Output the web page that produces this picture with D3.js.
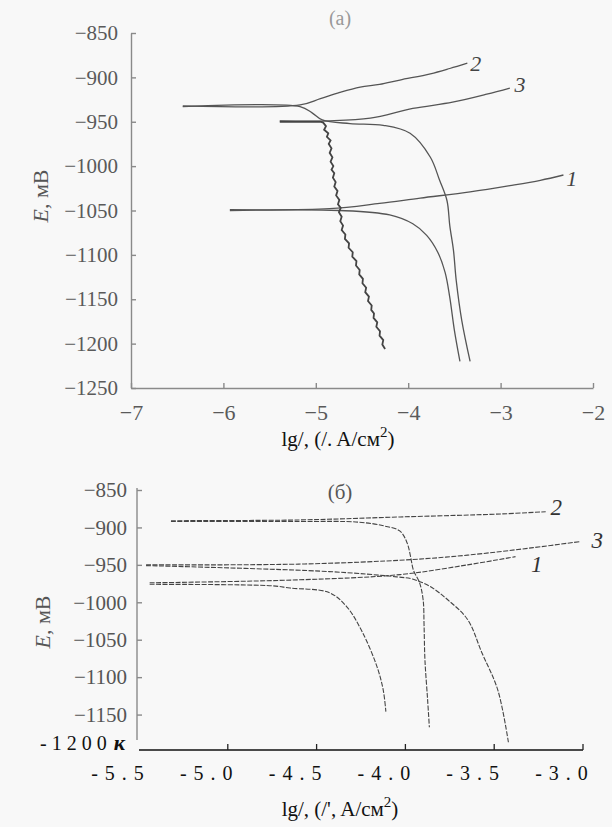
<!DOCTYPE html>
<html><head><meta charset="utf-8">
<script src="https://cdn.jsdelivr.net/npm/d3@7"></script>
<style>
html,body{margin:0;padding:0;background:#f8f8f8;}
svg{display:block;}
svg text{font-family:"Liberation Serif","Times New Roman",Times,"DejaVu Serif",serif !important;}
</style></head><body>
<svg id="c" width="612" height="827"></svg>
<script>
// ---------- Panel (a) data: [lg i, E mV] ----------
const xTicksA = [-7, -6, -5, -4, -3, -2];
const yTicksA = [-850, -900, -950, -1000, -1050, -1100, -1150, -1200, -1250];
const a1Anodic = [[-5.93,-1049],[-4.85,-1048],[-4.31,-1042],[-3.87,-1036],[-3.33,-1029],[-2.90,-1022],[-2.57,-1016],[-2.32,-1010]];
const a1Cathodic = [[-5.93,-1050],[-4.74,-1050],[-4.20,-1055],[-3.95,-1065],[-3.80,-1078],[-3.68,-1097],[-3.60,-1120],[-3.55,-1148],[-3.50,-1185],[-3.44,-1220]];
const a2Anodic = [[-6.44,-932],[-5.17,-931],[-4.95,-924],[-4.74,-917],[-4.52,-911],[-4.31,-908],[-4.09,-903],[-3.76,-896],[-3.55,-890],[-3.36,-884]];
const a2Cathodic = [[-6.44,-933],[-5.17,-933],[-5.04,-940],[-4.93,-948],[-4.63,-952],[-4.27,-954],[-3.98,-963],[-3.76,-990],[-3.66,-1016],[-3.58,-1039],[-3.55,-1067],[-3.51,-1095],[-3.48,-1129],[-3.42,-1174],[-3.33,-1220]];
const a3Anodic = [[-5.39,-949],[-4.85,-949],[-4.41,-946],[-3.95,-935],[-3.52,-928],[-3.15,-919],[-2.90,-912]];
const a3Cathodic = [[-5.39,-950],[-4.95,-950],[-4.92,-951],[-4.89,-955],[-4.91,-959],[-4.865,-963],[-4.88,-967],[-4.84,-971],[-4.86,-975],[-4.83,-980],[-4.85,-985],[-4.82,-990],[-4.84,-995],[-4.81,-1000],[-4.83,-1004],[-4.80,-1008],[-4.815,-1013],[-4.785,-1018],[-4.80,-1023],[-4.765,-1028],[-4.78,-1033],[-4.745,-1038],[-4.76,-1043],[-4.73,-1047],[-4.75,-1052],[-4.72,-1057],[-4.735,-1062],[-4.705,-1067],[-4.72,-1072],[-4.68,-1077],[-4.685,-1082],[-4.64,-1087],[-4.645,-1092],[-4.60,-1097],[-4.605,-1102],[-4.56,-1107],[-4.565,-1112],[-4.525,-1117],[-4.53,-1122],[-4.49,-1127],[-4.495,-1132],[-4.455,-1137],[-4.465,-1142],[-4.425,-1147],[-4.435,-1152],[-4.395,-1157],[-4.40,-1162],[-4.37,-1166],[-4.375,-1171],[-4.335,-1176],[-4.345,-1181],[-4.305,-1186],[-4.31,-1191],[-4.27,-1196],[-4.28,-1201],[-4.25,-1206]];
const labelsA = [["1",-2.23,-1014],["2",-3.27,-884],["3",-2.79,-908]];

// ---------- Panel (b) data ----------
const yTicksB = [-850, -900, -950, -1000, -1050, -1100, -1150];
const xTicksB = [-5.0, -4.5, -4.0, -3.5, -3.0];
const xTickLabelsB = ["-5.5", "-5.0", "-4.5", "-4.0", "-3.5", "-3.0"];
const xTickLabelValsB = [-5.5, -5.0, -4.5, -4.0, -3.5, -3.0];
const b1Anodic = [[-5.44,-974],[-4.60,-970],[-4.03,-963],[-3.65,-950],[-3.38,-939]];
const b1Cathodic = [[-5.44,-976],[-4.75,-978],[-4.65,-981],[-4.43,-987],[-4.33,-1006],[-4.24,-1041],[-4.16,-1086],[-4.125,-1117],[-4.11,-1146]];
const b2Anodic = [[-5.32,-891],[-4.60,-890],[-4.03,-886],[-3.46,-882],[-3.21,-879]];
const b2Cathodic = [[-5.32,-892],[-4.60,-892],[-4.26,-893],[-4.12,-898],[-4.03,-905],[-3.99,-921],[-3.97,-940],[-3.955,-957],[-3.92,-974],[-3.90,-997],[-3.895,-1030],[-3.89,-1077],[-3.875,-1130],[-3.865,-1167]];
const b3Anodic = [[-5.46,-950],[-4.60,-949],[-3.97,-943],[-3.65,-937],[-3.28,-927],[-3.02,-919]];
const b3Cathodic = [[-5.46,-951],[-4.43,-959],[-4.05,-966],[-3.96,-969],[-3.86,-979],[-3.76,-997],[-3.65,-1023],[-3.57,-1067],[-3.48,-1117],[-3.42,-1187]];
const labelsB = [["1",-3.26,-950],["2",-3.15,-874],["3",-2.92,-918]];

const SERIF = "'Liberation Serif','Times New Roman',Times,serif";
const svg = d3.select("#c").style("font-family", SERIF);

// ================= Panel (a) =================
const xA = d3.scaleLinear().domain([-7,-2]).range([131,593]);
const yA = d3.scaleLinear().domain([-1250,-850]).range([388,33]);
const gA = svg.append("g");

const axYA = gA.append("g").attr("transform",`translate(${xA(-7)},0)`)
  .call(d3.axisLeft(yA).tickValues(yTicksA).tickSize(-5).tickSizeOuter(0).tickPadding(13).tickFormat(d3.format("d")));
const axXA = gA.append("g").attr("transform",`translate(0,${yA(-1250)})`)
  .call(d3.axisBottom(xA).tickValues(xTicksA).tickSize(-5).tickSizeOuter(0).tickPadding(16).tickFormat(d3.format("d")));
[axYA, axXA].forEach(ax=>{
  ax.attr("font-family", null);
  ax.selectAll("path,line").attr("stroke","#8a8a8a").attr("stroke-width",1.4);
  ax.selectAll("text").attr("font-size",21).attr("fill","#5a5a5a");
});
axXA.selectAll("text").attr("font-size",22);

const lineA = d3.line().x(d=>xA(d[0])).y(d=>yA(d[1])).curve(d3.curveCatmullRom.alpha(0.5));
[a1Anodic,a1Cathodic,a2Anodic,a2Cathodic,a3Anodic].forEach(s=>{
  gA.append("path").attr("d",lineA(s)).attr("fill","none").attr("stroke","#555").attr("stroke-width",1.3);
});
gA.append("path").attr("d",d3.line().x(d=>xA(d[0])).y(d=>yA(d[1]))(a3Cathodic))
  .attr("fill","none").attr("stroke","#444").attr("stroke-width",1.8);

gA.selectAll("text.lab").data(labelsA).enter().append("text")
  .attr("x",d=>xA(d[1])).attr("y",d=>yA(d[2])).attr("text-anchor","middle").attr("dominant-baseline","central")
  .attr("font-size",22).attr("font-style","italic").attr("fill","#444").text(d=>d[0]);

gA.append("text").attr("x",340).attr("y",18).attr("text-anchor","middle").attr("dominant-baseline","central")
  .attr("font-size",20).attr("fill","#999").text("(a)");

const tA = gA.append("text").attr("transform","translate(40,196) rotate(-90)").attr("text-anchor","middle")
  .attr("dominant-baseline","central").attr("font-size",22).attr("fill","#555");
tA.append("tspan").attr("font-style","italic").text("E");
tA.append("tspan").text(", мВ");

const xtA = gA.append("text").attr("x",338).attr("y",446).attr("text-anchor","middle").attr("font-size",21).attr("fill","#111");
xtA.append("tspan").text("lg/, (/. A/см");
xtA.append("tspan").attr("dy",-9).attr("font-size",15).text("2");
xtA.append("tspan").attr("dy",9).text(")");

// ================= Panel (b) =================
const xB = d3.scaleLinear().domain([-5.5,-3.0]).range([139,583]);
const yB = d3.scaleLinear().domain([-1200,-850]).range([752,490]);
const gB = svg.append("g");

const axYB = gB.append("g").attr("transform",`translate(137,0)`)
  .call(d3.axisLeft(yB).tickValues(yTicksB).tickSize(-5).tickSizeOuter(0).tickPadding(10).tickFormat(d3.format("d")));
axYB.attr("font-family", null);
axYB.select("path.domain").remove();
axYB.append("line").attr("x1",0).attr("x2",0).attr("y1",yB(-850)-2).attr("y2",yB(-1184));
axYB.selectAll("path,line").attr("stroke","#8a8a8a").attr("stroke-width",1.4);
axYB.selectAll("text").attr("font-size",21).attr("fill","#555");

const lineB = d3.line().x(d=>xB(d[0])).y(d=>yB(d[1])).curve(d3.curveCatmullRom.alpha(0.5));
[b1Anodic,b1Cathodic,b2Anodic,b2Cathodic,b3Anodic,b3Cathodic].forEach(s=>{
  gB.append("path").attr("d",lineB(s)).attr("fill","none").attr("stroke","#444").attr("stroke-width",1.1)
    .attr("stroke-dasharray","5,1.5");
});

gB.selectAll("text.lab").data(labelsB).enter().append("text")
  .attr("x",d=>xB(d[1])).attr("y",d=>yB(d[2])).attr("text-anchor","middle").attr("dominant-baseline","central")
  .attr("font-size",23).attr("font-style","italic").attr("fill","#333").text(d=>d[0]);

gB.append("text").attr("x",340).attr("y",492).attr("text-anchor","middle").attr("dominant-baseline","central")
  .attr("font-size",21).attr("fill","#555").text("(б)");

const tB = gB.append("text").attr("transform","translate(42,622) rotate(-90)").attr("text-anchor","middle")
  .attr("dominant-baseline","central").attr("font-size",22).attr("fill","#555");
tB.append("tspan").attr("font-style","italic").text("E");
tB.append("tspan").text(", мВ");

// bottom axis of (b)
const baseY = yB(-1200) - 2;
gB.append("line").attr("x1",xB(-5.5)).attr("x2",xB(-3.0)).attr("y1",baseY).attr("y2",baseY)
  .attr("stroke","#111").attr("stroke-width",1.3);
gB.selectAll("line.tk").data(xTicksB).enter().append("line")
  .attr("x1",d=>xB(d)).attr("x2",d=>xB(d)).attr("y1",baseY).attr("y2",baseY-6)
  .attr("stroke","#222").attr("stroke-width",1.3);
const lbl1200 = gB.append("text").attr("x",40).attr("y",baseY).attr("font-size",20).attr("fill","#111")
  .attr("letter-spacing",5);
lbl1200.append("tspan").text("-1200");
lbl1200.append("tspan").attr("dx",2).attr("font-weight","bold").attr("font-style","italic").attr("font-size",22).text("к");

gB.selectAll("text.xl").data(xTickLabelValsB).enter().append("text")
  .attr("x",d=>xB(d)-18).attr("y",baseY+30).attr("text-anchor","middle")
  .attr("font-size",20).attr("fill","#111").attr("letter-spacing",7)
  .text((d,i)=>xTickLabelsB[i]);

const xtB = gB.append("text").attr("x",340).attr("y",816).attr("text-anchor","middle").attr("font-size",21).attr("fill","#111");
xtB.append("tspan").text("lg/, (/', A/см");
xtB.append("tspan").attr("dy",-9).attr("font-size",15).text("2");
xtB.append("tspan").attr("dy",9).text(")");
</script></body></html>
